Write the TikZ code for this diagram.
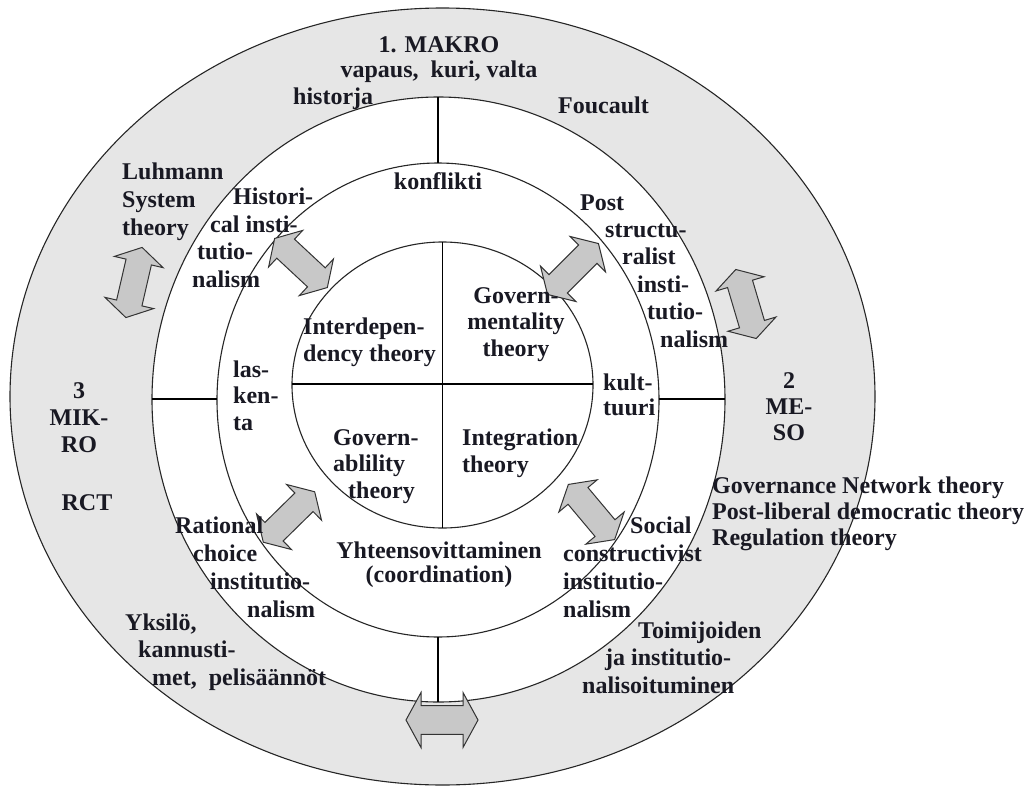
\documentclass[tikz,border=0pt]{standalone}
\usepackage{fontspec}
\setmainfont{Liberation Serif}
\definecolor{ringgray}{RGB}{230,230,230}
\definecolor{arrowgray}{RGB}{200,200,200}
\definecolor{textdark}{RGB}{25,25,35}
\begin{document}
\begin{tikzpicture}[x=1pt,y=-1pt,
  ring/.style={draw=black!85, line width=1.1pt},
  divider/.style={draw=black, line width=1.3pt},
  arrowbody/.style={draw=black!80, line width=1pt, fill=arrowgray, line join=miter},
  lead/.style={font=\fontsize{24}{#1}\selectfont\bfseries},
  lbl/.style={inner sep=0pt, lead=27.5, text=textdark},
  lblL/.style={lbl, align=left, anchor=base west},
  lblC/.style={lbl, align=center, anchor=base},
  dblarrow/.pic={
    \draw[arrowbody] (-36,0) -- (-21,-25) -- (-21,-13) -- (21,-13) -- (21,-25)
      -- (36,0) -- (21,25) -- (21,13) -- (-21,13) -- (-21,25) -- cycle;
  }]
\useasboundingbox (0,0) rectangle (1029,787);

% ellipse centres
\coordinate (outerC) at (442.5,396.5);
\coordinate (ringC)  at (438.5,399.5);
\coordinate (midC)   at (438,400);
\coordinate (coreC)  at (442.5,385);

% rings, outermost first
\fill[ringgray] (outerC) ellipse [x radius=432.5, y radius=388.5];
\draw[ring] (outerC) ellipse [x radius=432.5, y radius=388.5];
\fill[white] (ringC) ellipse [x radius=286.5, y radius=302.5];
\draw[ring] (ringC) ellipse [x radius=286.5, y radius=302.5];
\draw[ring] (midC) ellipse [x radius=221, y radius=237];
\draw[ring] (coreC) ellipse [x radius=150.5, y radius=143];

% ends of the dividing strokes
\coordinate (topOut) at (438,97);   \coordinate (topIn) at (438,163);
\coordinate (botIn)  at (438,637);  \coordinate (botOut) at (438,702);
\coordinate (leftOut) at (152,399); \coordinate (leftIn) at (217,399);
\coordinate (rightIn) at (659,399); \coordinate (rightOut) at (725,399);
\coordinate (coreTop) at (442.5,242); \coordinate (coreBot) at (442.5,528);
\coordinate (coreLeft) at (292,384);  \coordinate (coreRight) at (593,384);

\draw[divider] (topOut) -- (topIn);
\draw[divider] (botIn) -- (botOut);
\draw[divider] (leftOut) -- (leftIn);
\draw[divider] (rightIn) -- (rightOut);
\draw[divider] (coreTop) -- (coreBot);
\draw[divider] (coreLeft) -- (coreRight);

% two-headed block arrows
\pic[rotate=-43] at (301,263) {dblarrow};
\pic[rotate=45] at (573,269) {dblarrow};
\pic[rotate=-50] at (591.5,512) {dblarrow};
\pic[rotate=44.5] at (289,517) {dblarrow};
\pic[rotate=77] at (134,282.5) {dblarrow};
\pic[rotate=-73.5] at (746,304) {dblarrow};
\pic[yscale=1.1] at (442,720) {dblarrow};

% labels (multi-line nodes are placed by the baseline of their last line)
\node[lblC, lead=25] (makro) at (439,77) {1. MAKRO\\vapaus,\ \ kuri, valta};
\node[lblL] (historja) at (293,104) {historja};
\node[lblL] (foucault) at (558,113) {Foucault};
\node[lblC] (konflikti) at (438,189) {konflikti};
\node[lblL, lead=28] (luhmann) at (122,235) {Luhmann\\System\\theory};
\node[lblL, lead=27.5] (histinst) at (192,287)
  {\hspace*{41pt}Histori-\\\hspace*{18pt}cal insti-\\\hspace*{5pt}tutio-\\nalism};
\node[lblL, lead=27.4] (poststr) at (580,347)
  {Post\\\hspace*{25pt}structu-\\\hspace*{42pt}ralist\\\hspace*{57pt}insti-\\\hspace*{67pt}tutio-\\\hspace*{80pt}nalism};
\node[lblL, lead=27] (interdep) at (303,361) {Interdepen-\\dency theory};
\node[lblC, lead=26.5] (govment) at (516,356) {Govern-\\mentality\\theory};
\node[lblL, lead=26.5] (laskenta) at (233,430) {las-\\ken-\\ta};
\node[lblL, lead=25] (kulttuuri) at (603,415) {kult-\\tuuri};
\node[lblC, lead=27] (mikro) at (79,452) {3\\MIK-\\RO};
\node[lblC] (rct) at (87,510) {RCT};
\node[lblC, lead=26] (meso) at (789,440) {2\\ME-\\SO};
\node[lblL, lead=26] (theories) at (712,545)
  {Governance Network theory\\Post-liberal democratic theory\\Regulation theory};
\node[lblL, lead=26.5] (govabl) at (333,498) {Govern-\\ablility\\\hspace*{15pt}theory};
\node[lblL, lead=27] (integr) at (462,472) {Integration\\theory};
\node[lblC, lead=24] (coord) at (439,582) {Yhteensovittaminen\\(coordination)};
\node[lblL, lead=28] (rational) at (175,617)
  {Rational\\\hspace*{18pt}choice\\\hspace*{35pt}institutio-\\\hspace*{72pt}nalism};
\node[lblL, lead=27.5] (yksilo) at (125,685)
  {Yksilö,\\\hspace*{13pt}kannusti-\\\hspace*{27pt}met,\ \ pelisäännöt};
\node[lblL, lead=28] (social) at (563,617)
  {\hspace*{67pt}Social\\constructivist\\institutio-\\nalism};
\node[lblL, lead=27.5] (toimij) at (582,693)
  {\hspace*{56pt}Toimijoiden\\\hspace*{23pt}ja institutio-\\nalisoituminen};
\end{tikzpicture}
\end{document}
